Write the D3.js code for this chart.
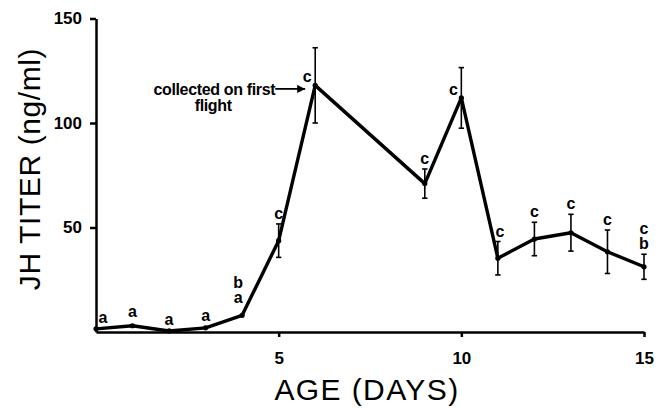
<!DOCTYPE html>
<html lang="en">
    <head>
        <meta charset="utf-8">
        <title>JH titer by age</title>
        <style>
            body { margin: 0; background: #fff; }
            svg { display: block; font-family: "Liberation Sans", Arial, Helvetica, sans-serif; }
        </style>
    </head>
    <body>

        <svg width="664" height="413"></svg>
        <script src="https://d3js.org/d3.v7.min.js"></script>
        <script>
        // values
        var days   = [0, 1, 2, 3, 4, 5, 6, 9, 10, 11, 12, 13, 14, 15];
        var titer  = [1.5, 3, 0.5, 2, 8, 43.7, 118, 71, 112, 35.3, 44.5, 47.5, 38.4, 31.2];
        var se     = [0.5, 2, 0.5, 1, 3.5, 8, 18, 7, 14.5, 8, 8, 8.8, 10.4, 6];
        var groups = ["a", "a", "a", "a", "ba", "c", "c", "c", "c", "c", "c", "c", "c", "cb"];
        var yTicks = [50, 100, 150];
        var xTicks = [5, 10, 15];
        var note   = ["collected on first", "flight"];

        var data = days.map(function(d, i) {
          return {day: d, titer: titer[i], se: se[i], group: groups[i]};
        });

        var svg = d3.select("svg"),
            margin = {top: 18.5, right: 20, bottom: 81, left: 96},
            width = 644 - margin.left,
            height = +svg.attr("height") - margin.top - margin.bottom,
            g = svg.append("g").attr("transform", "translate(" + margin.left + "," + margin.top + ")");

        var x = d3.scaleLinear()
            .domain([0, 15])
            .range([0, width]);

        var y = d3.scaleLinear()
            .domain([0, 150])
            .range([height, 0]);

        var line = d3.line()
            .x(function(d) { return x(d.day); })
            .y(function(d) { return y(d.titer); });

        // axes
        var xAxis = g.append("g")
            .attr("transform", "translate(0," + height + ")")
            .call(d3.axisBottom(x).tickValues(xTicks).tickSizeInner(5).tickSizeOuter(0).tickPadding(15));

        var yAxis = g.append("g")
            .call(d3.axisLeft(y).tickValues(yTicks).tickSizeInner(6).tickSizeOuter(0).tickPadding(8));

        [xAxis, yAxis].forEach(function(ax) {
          ax.select(".domain").attr("stroke-width", 2.5);
          ax.selectAll(".tick line").attr("stroke-width", 2.5);
          ax.selectAll(".tick text")
              .attr("fill", "#000")
              .style("font-size", "17px")
              .style("font-weight", "bold");
        });

        svg.append("text")
            .attr("x", 367)
            .attr("y", 400)
            .attr("text-anchor", "middle")
            .style("font-size", "30px")
            .style("letter-spacing", "1.4px")
            .text("AGE (DAYS)");

        svg.append("text")
            .attr("transform", "translate(40,169) rotate(-90)")
            .attr("text-anchor", "middle")
            .style("font-size", "30px")
            .style("letter-spacing", "0.6px")
            .text("JH TITER (ng/ml)");

        // error bars
        var err = g.append("g")
            .attr("stroke", "#000")
            .attr("stroke-width", 1.6);

        data.filter(function(d) { return d.day >= 5; }).forEach(function(d) {
          var cx = x(d.day);
          err.append("line")
              .attr("x1", cx).attr("x2", cx)
              .attr("y1", y(d.titer - d.se)).attr("y2", y(d.titer + d.se));
          [d.titer - d.se, d.titer + d.se].forEach(function(v) {
            err.append("line")
                .attr("x1", cx - 2.7).attr("x2", cx + 2.7)
                .attr("y1", y(v)).attr("y2", y(v));
          });
        });

        g.append("path")
            .datum(data)
            .attr("fill", "none")
            .attr("stroke", "#000")
            .attr("stroke-width", 3.4)
            .attr("stroke-linejoin", "round")
            .attr("d", line);

        g.selectAll(".pt")
            .data(data)
          .enter().append("circle")
            .attr("class", "pt")
            .attr("cx", function(d) { return x(d.day); })
            .attr("cy", function(d) { return y(d.titer); })
            .attr("r", 2.6)
            .attr("fill", "#000");

        // significance letters above each point; two letters stack as one label
        var nudge = {0: [7, 0], 4: [-4, 0], 6: [-8, null], 10: [-8, null], 11: [2, 0]};
        data.forEach(function(d) {
          var n = nudge[d.day] || [0, 0];
          var bx = x(d.day) + n[0];
          var by = n[1] === null ? y(d.titer) - 3 : y(d.titer + d.se) - 5;
          var letters = d.group.split("");
          var t = g.append("text")
              .attr("text-anchor", "middle")
              .style("font-size", "16px")
              .style("font-weight", "bold");
          letters.forEach(function(c, k) {
            t.append("tspan")
                .attr("x", bx)
                .attr("y", by - (letters.length - 1 - k) * 15)
                .text(c);
          });
        });

        // annotation with arrow
        svg.append("defs").append("marker")
            .attr("id", "head")
            .attr("viewBox", "0 0 10 10")
            .attr("refX", 10).attr("refY", 5)
            .attr("markerWidth", 11).attr("markerHeight", 8)
            .attr("markerUnits", "userSpaceOnUse")
            .attr("orient", "auto")
          .append("path")
            .attr("d", "M0,0L10,5L0,10Z")
            .attr("fill", "#000");

        var ax1 = x(6) - 10, ay = y(118) + 3.5, ax0 = ax1 - 30;
        g.append("line")
            .attr("x1", ax0).attr("x2", ax1)
            .attr("y1", ay).attr("y2", ay)
            .attr("stroke", "#000")
            .attr("stroke-width", 1.8)
            .attr("marker-end", "url(#head)");

        g.append("text")
            .attr("x", ax0)
            .attr("y", ay + 6.5)
            .attr("text-anchor", "end")
            .style("font-size", "16px")
            .style("font-weight", "bold")
            .style("letter-spacing", "-0.35px")
            .text(note[0]);

        g.append("text")
            .attr("x", ax0 - 62)
            .attr("y", ay + 22)
            .attr("text-anchor", "middle")
            .style("font-size", "16px")
            .style("font-weight", "bold")
            .style("letter-spacing", "-0.35px")
            .text(note[1]);
        </script>

    </body>
</html>
